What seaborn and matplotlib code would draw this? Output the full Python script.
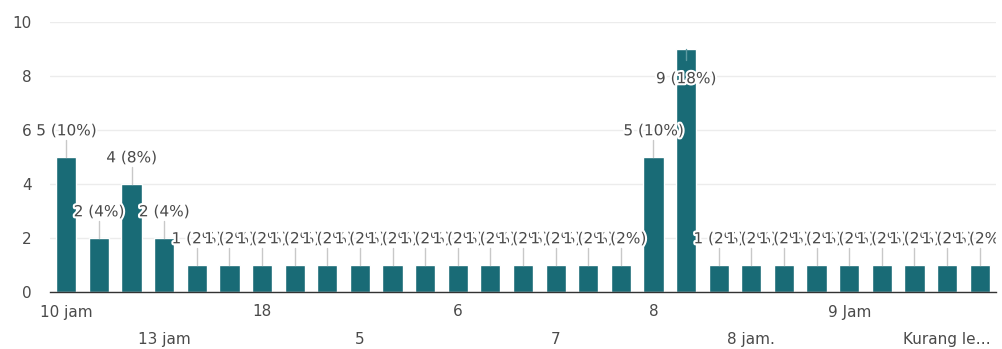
import matplotlib
matplotlib.use("Agg")
import matplotlib.pyplot as plt
import matplotlib.patheffects as pe
from matplotlib.transforms import Bbox, TransformedBbox
import seaborn as sns
import pandas as pd

# ---- data ----
answer_index = list(range(1, 30))
counts = [5, 2, 4, 2,
          1, 1, 1, 1, 1, 1, 1, 1, 1, 1, 1, 1, 1, 1,
          5, 9,
          1, 1, 1, 1, 1, 1, 1, 1, 1]
total = sum(counts)
row1_pos = [0, 6, 12, 18, 24]
row1_labels = ["10 jam", "18", "6", "8", "9 Jam"]
row2_pos = [3, 9, 15, 21, 27]
row2_labels = ["13 jam", "5", "7", "8 jam.", "Kurang le\u2026"]
y_ticks = [0, 2, 4, 6, 8, 10]

sns.set_theme(style="white")
plt.rcParams["font.family"] = ["DejaVu Sans"]

BAR = "#196b76"
TXT = "#4a4a4a"
FS = 11

df = pd.DataFrame({"answer": answer_index, "count": counts})

fig = plt.figure(figsize=(10.03, 3.49), dpi=100)
ax = fig.add_axes([50 / 1003, 1 - 292 / 349, 946 / 1003, (292 - 22) / 349])

sns.barplot(data=df, x="answer", y="count", color=BAR, saturation=1,
            width=0.62, ax=ax, order=answer_index)

ax.set_xlim(-0.5, len(counts) - 0.5)
ax.set_ylim(0, 10)
ax.set_yticks(y_ticks)
ax.set_yticklabels([str(t) for t in y_ticks])
ax.yaxis.grid(True, color="#ececec", linewidth=1)
ax.set_axisbelow(True)
ax.tick_params(axis="y", length=0, pad=13, labelsize=FS, labelcolor=TXT)

ax.set_xticks(row1_pos)
ax.set_xticklabels(row1_labels)
ax.set_xticks(row2_pos, minor=True)
ax.set_xticklabels(row2_labels, minor=True)
ax.tick_params(axis="x", which="major", length=0, pad=9, labelsize=FS, labelcolor=TXT)
ax.tick_params(axis="x", which="minor", length=0, pad=29, labelsize=FS, labelcolor=TXT)
ax.set_xlabel("")
ax.set_ylabel("")

for s in ["top", "right", "left"]:
    ax.spines[s].set_visible(False)
ax.spines["bottom"].set_color("#333333")
ax.spines["bottom"].set_linewidth(1)

# labels are clipped only at the right edge of the plot area
clip_box = TransformedBbox(Bbox([[-0.2, -0.2], [1.0, 1.2]]), ax.transAxes)
halo = [pe.withStroke(linewidth=3, foreground="white")]
for i, v in enumerate(counts):
    pct = round(100 * v / total)
    txt = f"{v} ({pct}%)"
    if v + 1.0 < 9.6:
        ly = v + 0.97
        ax.plot([i, i], [v, v + 0.64], color="#c8c8c8", linewidth=1, zorder=3)
    else:
        ly = v - 1.1
        ax.plot([i, i], [v, v - 0.4], color="#5f9aa2", linewidth=1, zorder=3)
    t = ax.text(i, ly, txt, ha="center", va="center", fontsize=FS, color=TXT,
                path_effects=halo, zorder=4, clip_on=True)
    t.set_clip_box(clip_box)

fig.savefig("out.png", dpi=100)
